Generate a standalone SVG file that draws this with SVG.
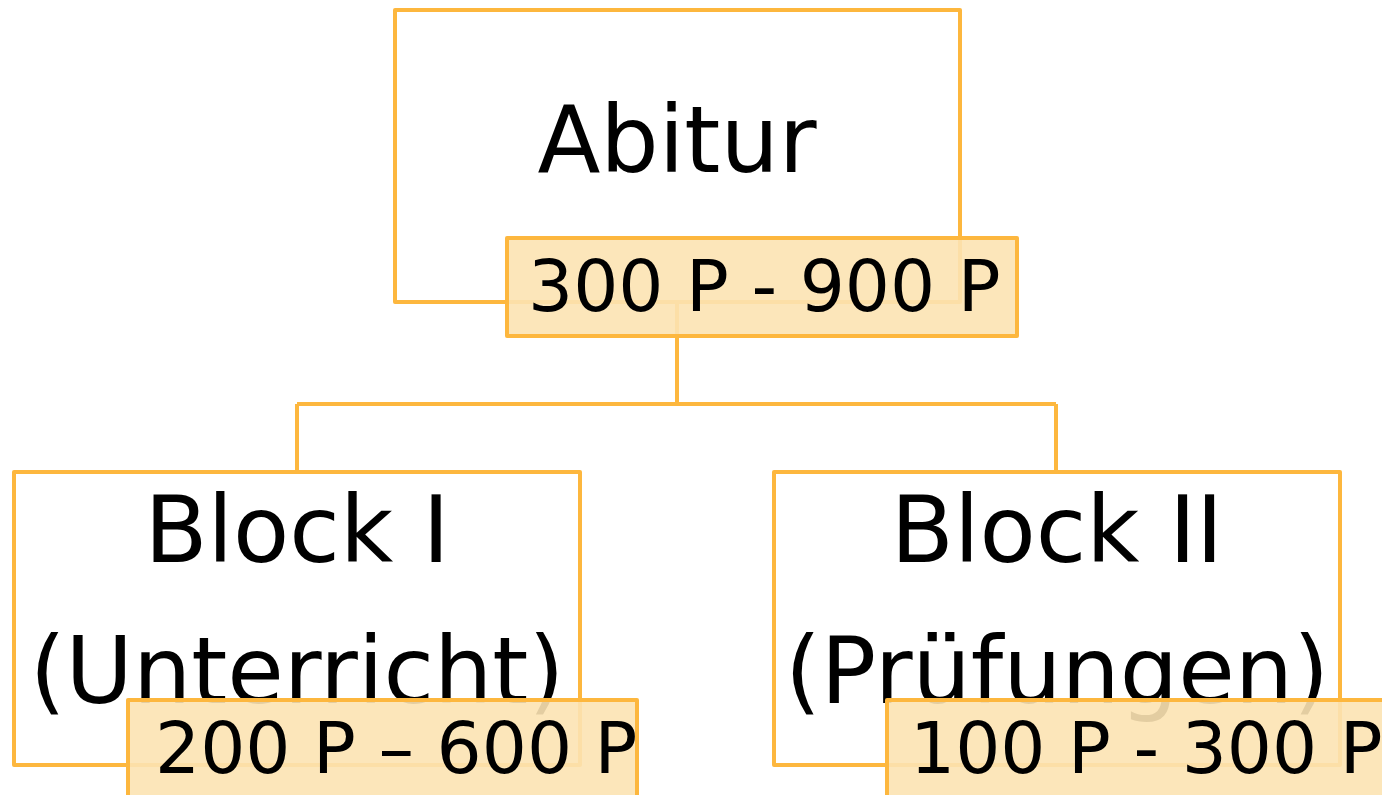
<svg xmlns="http://www.w3.org/2000/svg" width="1382" height="795" viewBox="0 0 1382 795">
<style>
.box{fill:#fff;stroke:#FDB73E;stroke-width:4;stroke-linejoin:round}
.lab{fill:#FCE3B2;fill-opacity:0.9;stroke:#FDB73E;stroke-width:4;stroke-linejoin:round}
.conn{fill:none;stroke:#FDB73E;stroke-width:4}
.big{font-family:"DejaVu Sans",Verdana,sans-serif;font-size:92px;fill:#000;text-anchor:middle}
.small{font-family:"DejaVu Sans",Verdana,sans-serif;font-size:71px;fill:#000}
</style>
<rect width="1382" height="795" fill="#fff"/>
<g id="abitur">
<rect class="box" x="395" y="10" width="565" height="292"/>
<text class="big" x="677" y="172">Abitur</text>
</g>
<g id="block1">
<rect class="box" x="14" y="472" width="566" height="293"/>
<text class="big" x="297" y="562">Block I</text>
<text class="big" x="297" y="703">(Unterricht)</text>
</g>
<g id="block2">
<rect class="box" x="774" y="472" width="566" height="293"/>
<text class="big" x="1057" y="562">Block II</text>
<text class="big" x="1057" y="703">(Prüfungen)</text>
</g>
<g id="connectors">
<path class="conn" d="M677 302 V404 M297 404 H1056 M297 404 V472 M1056 404 V472"/>
</g>
<g id="abitur-label">
<rect class="lab" x="507" y="238" width="510" height="98"/>
<text class="small" x="528" y="311">300 P - 900 P</text>
</g>
<g id="block1-label">
<rect class="lab" x="128" y="700" width="509" height="110"/>
<text class="small" x="155" y="773">200 P – 600 P</text>
</g>
<g id="block2-label">
<rect class="lab" x="887" y="700" width="520" height="110"/>
<text class="small" x="910" y="773">100 P - 300 P</text>
</g>
</svg>
